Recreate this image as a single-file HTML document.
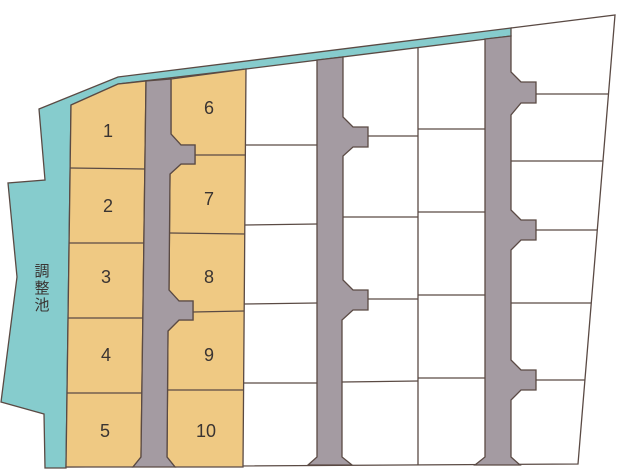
<!DOCTYPE html>
<html><head><meta charset="utf-8"><style>
html,body{margin:0;padding:0;background:#fff;width:617px;height:471px;overflow:hidden}
svg{display:block}
text{font-family:"Liberation Sans","DejaVu Sans",sans-serif;fill:#3a3432}
</style></head><body>
<svg width="617" height="471" viewBox="0 0 617 471" xmlns="http://www.w3.org/2000/svg">
<g stroke="#5a4a44" stroke-width="1.3" stroke-linejoin="miter">
<!-- pond -->
<polygon fill="#86cccd" points="39,109 118,77 511,28 511,36 246,69 118,84 71,105 66,468 45,468 44,414 1,402 17,277 8,183 45,180"/>
<!-- outline right part -->
<polyline fill="none" points="511,28 615,15 578,464 66,467"/>
<!-- lots col A -->
<polygon fill="#efc983" points="71,105 118,84 146,81 141,457 133,467 66,467"/>
<polygon fill="#efc983" points="171,79 246,69 243,467 175,467 167,457 168,331 179,320 193,320 193,301 179,301 169,290 170,174 181,164 195,164 195,145 181,145 171,134"/>
<line x1="70" y1="168" x2="145" y2="169"/>
<line x1="69" y1="243" x2="144" y2="243"/>
<line x1="68" y1="318" x2="143" y2="318"/>
<line x1="67" y1="393" x2="142" y2="393"/>
<line x1="195" y1="155" x2="246" y2="155"/>
<line x1="170" y1="233" x2="245" y2="234"/>
<line x1="193" y1="312" x2="244" y2="311"/>
<line x1="168" y1="390" x2="243" y2="390"/>
<!-- road 1 -->
<polygon fill="#a49ba2" points="146,81 171,79 171,134 181,145 195,145 195,164 181,164 170,174 169,290 179,301 193,301 193,320 179,320 168,331 167,457 175,467 133,467 141,457"/>
<!-- road 2 -->
<polygon fill="#a49ba2" points="317,60 343,57 343,117 353,127 368,127 368,147 353,147 343,156 343,280 353,290 368,290 368,310 353,310 342,320 342,457 352,465 308,465 317,457"/>
<!-- road 3 -->
<polygon fill="#a49ba2" points="485,39 511,36 511,72 521,82 536,82 536,103 521,103 511,115 511,210 521,220 536,220 536,240 521,240 511,250 511,360 521,370 536,370 536,390 521,390 511,400 511,457 520,465 475,465 485,457"/>
<!-- white lot lines -->
<g fill="none">
<line x1="418" y1="48" x2="418" y2="465"/>
<line x1="246" y1="145" x2="317" y2="145"/>
<line x1="245" y1="225" x2="317" y2="224"/>
<line x1="244" y1="304" x2="317" y2="303"/>
<line x1="243" y1="383" x2="317" y2="383"/>
<line x1="368" y1="136" x2="418" y2="136"/>
<line x1="343" y1="217" x2="418" y2="217"/>
<line x1="368" y1="299" x2="418" y2="299"/>
<line x1="342" y1="382" x2="418" y2="381"/>
<line x1="418" y1="129" x2="485" y2="129"/>
<line x1="418" y1="212" x2="485" y2="212"/>
<line x1="418" y1="295" x2="485" y2="295"/>
<line x1="418" y1="378" x2="485" y2="378"/>
<line x1="536" y1="94" x2="608.5" y2="94"/>
<line x1="511" y1="161" x2="603" y2="161"/>
<line x1="536" y1="230" x2="597" y2="230"/>
<line x1="511" y1="303" x2="591" y2="303"/>
<line x1="536" y1="380" x2="585" y2="380"/>
</g>
</g>
<g font-size="18" text-anchor="middle">
<text x="108" y="137">1</text>
<text x="108" y="212">2</text>
<text x="106" y="283">3</text>
<text x="106" y="361">4</text>
<text x="105" y="437">5</text>
<text x="209" y="114">6</text>
<text x="209" y="205">7</text>
<text x="209" y="283">8</text>
<text x="209" y="361">9</text>
<text x="206" y="437">10</text>
</g>
<g font-size="15" text-anchor="middle" style="font-family:'Liberation Sans','Noto Sans CJK JP',sans-serif">
<text x="42" y="276" style="font-family:'Liberation Sans','Noto Sans CJK JP',sans-serif">調</text>
<text x="42" y="293" style="font-family:'Liberation Sans','Noto Sans CJK JP',sans-serif">整</text>
<text x="42" y="310" style="font-family:'Liberation Sans','Noto Sans CJK JP',sans-serif">池</text>
</g>
</svg>
</body></html>
